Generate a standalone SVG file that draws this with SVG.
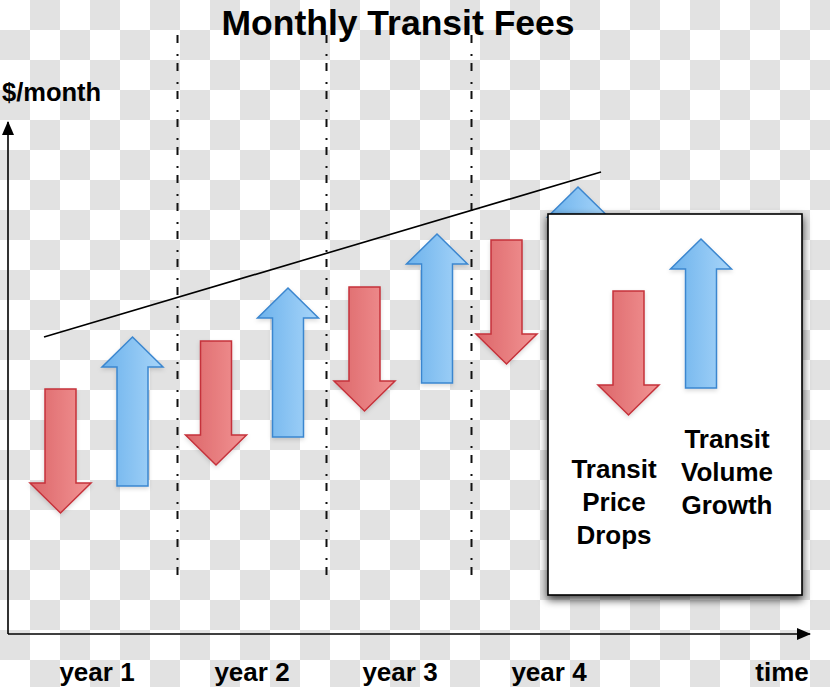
<svg xmlns="http://www.w3.org/2000/svg" width="830" height="687" viewBox="0 0 830 687">
<defs>
<pattern id="chk" width="60" height="60" patternUnits="userSpaceOnUse">
<rect width="60" height="60" fill="#ffffff"/>
<rect x="30" y="0" width="30" height="30" fill="#e2e2e2"/>
<rect x="0" y="30" width="30" height="30" fill="#e2e2e2"/>
</pattern>
<linearGradient id="gRed" x1="0" y1="0" x2="1" y2="0">
<stop offset="0" stop-color="#dc6669"/>
<stop offset="1" stop-color="#f29494"/>
</linearGradient>
<linearGradient id="gBlue" x1="0" y1="0" x2="1" y2="0">
<stop offset="0" stop-color="#6cb2ec"/>
<stop offset="1" stop-color="#a8d5f9"/>
</linearGradient>
<path id="down" d="M-15.5,0 H15.5 V94 H30.5 L0,124 L-30.5,94 H-15.5 Z"/>
<path id="up" d="M0,0 L30.5,30 H15.5 V149 H-15.5 V30 H-30.5 Z"/>
<marker id="ah" viewBox="0 0 14 12" refX="13" refY="6" markerWidth="14" markerHeight="12" markerUnits="userSpaceOnUse" orient="auto">
<path d="M0,0 L14,6 L0,12 Z" fill="#000"/>
</marker>
<filter id="shadow" x="-10%" y="-10%" width="125%" height="125%">
<feDropShadow dx="0" dy="4" stdDeviation="4" flood-color="#000" flood-opacity="0.75"/>
</filter>
<filter id="ashadow" x="-20%" y="-10%" width="140%" height="130%">
<feDropShadow dx="0" dy="2" stdDeviation="2" flood-color="#000" flood-opacity="0.15"/>
</filter>
</defs>
<style>
.t{font-family:"Liberation Sans",Arial,Helvetica,sans-serif;font-weight:bold;fill:#000;}
.red{fill:url(#gRed);stroke:#c5323b;stroke-width:1.5;stroke-linejoin:miter;filter:url(#ashadow);}
.blue{fill:url(#gBlue);stroke:#3b86cf;stroke-width:1.5;stroke-linejoin:miter;filter:url(#ashadow);}
.dash{stroke:#111;stroke-width:2;stroke-dasharray:8 11 2 7;fill:none;}
.axis{stroke:#000;stroke-width:1.6;fill:none;marker-end:url(#ah);}
</style>
<rect width="830" height="687" fill="url(#chk)"/>

<g id="title"><text class="t" x="398" y="35" font-size="35.5" text-anchor="middle">Monthly Transit Fees</text></g>
<g id="ylabel"><text class="t" x="2" y="101" font-size="25.5">$/month</text></g>

<g id="connectors">
<line class="dash" x1="177.5" y1="35" x2="177.5" y2="585"/>
<line class="dash" x1="326.5" y1="35" x2="326.5" y2="585"/>
<line class="dash" x1="471.5" y1="35" x2="471.5" y2="585"/>
<line class="axis" x1="8" y1="634" x2="8" y2="122"/>
<line class="axis" x1="8" y1="634" x2="810" y2="634"/>
<line x1="44" y1="337" x2="601" y2="172" stroke="#000" stroke-width="1.6"/>
</g>

<g id="red1"><use href="#down" class="red" transform="translate(60.5,389)"/></g>
<g id="blue1"><use href="#up" class="blue" transform="translate(132.5,337)"/></g>
<g id="red2"><use href="#down" class="red" transform="translate(216,341)"/></g>
<g id="blue2"><use href="#up" class="blue" transform="translate(288,288)"/></g>
<g id="red3"><use href="#down" class="red" transform="translate(364.5,287)"/></g>
<g id="blue3"><use href="#up" class="blue" transform="translate(437,234)"/></g>
<g id="red4"><use href="#down" class="red" transform="translate(506.5,240)"/></g>
<g id="blue4"><use href="#up" class="blue" transform="translate(578,187)"/></g>

<g id="legend">
<rect x="548" y="214" width="254" height="381" fill="#ffffff" stroke="#000" stroke-width="1.6" filter="url(#shadow)"/>
<use href="#down" class="red" transform="translate(628.5,291)"/>
<use href="#up" class="blue" transform="translate(701,239)"/>
<text class="t" font-size="26" text-anchor="middle"><tspan x="614" y="478">Transit</tspan><tspan x="614" y="511">Price</tspan><tspan x="614" y="544">Drops</tspan></text>
<text class="t" font-size="26" text-anchor="middle"><tspan x="727" y="448">Transit</tspan><tspan x="727" y="481">Volume</tspan><tspan x="727" y="514">Growth</tspan></text>
</g>

<g id="xlabels">
<text class="t" x="97" y="681" font-size="26" text-anchor="middle">year 1</text>
<text class="t" x="252" y="681" font-size="26" text-anchor="middle">year 2</text>
<text class="t" x="400" y="681" font-size="26" text-anchor="middle">year 3</text>
<text class="t" x="549" y="681" font-size="26" text-anchor="middle">year 4</text>
<text class="t" x="782" y="681" font-size="26" text-anchor="middle">time</text>
</g>
</svg>
